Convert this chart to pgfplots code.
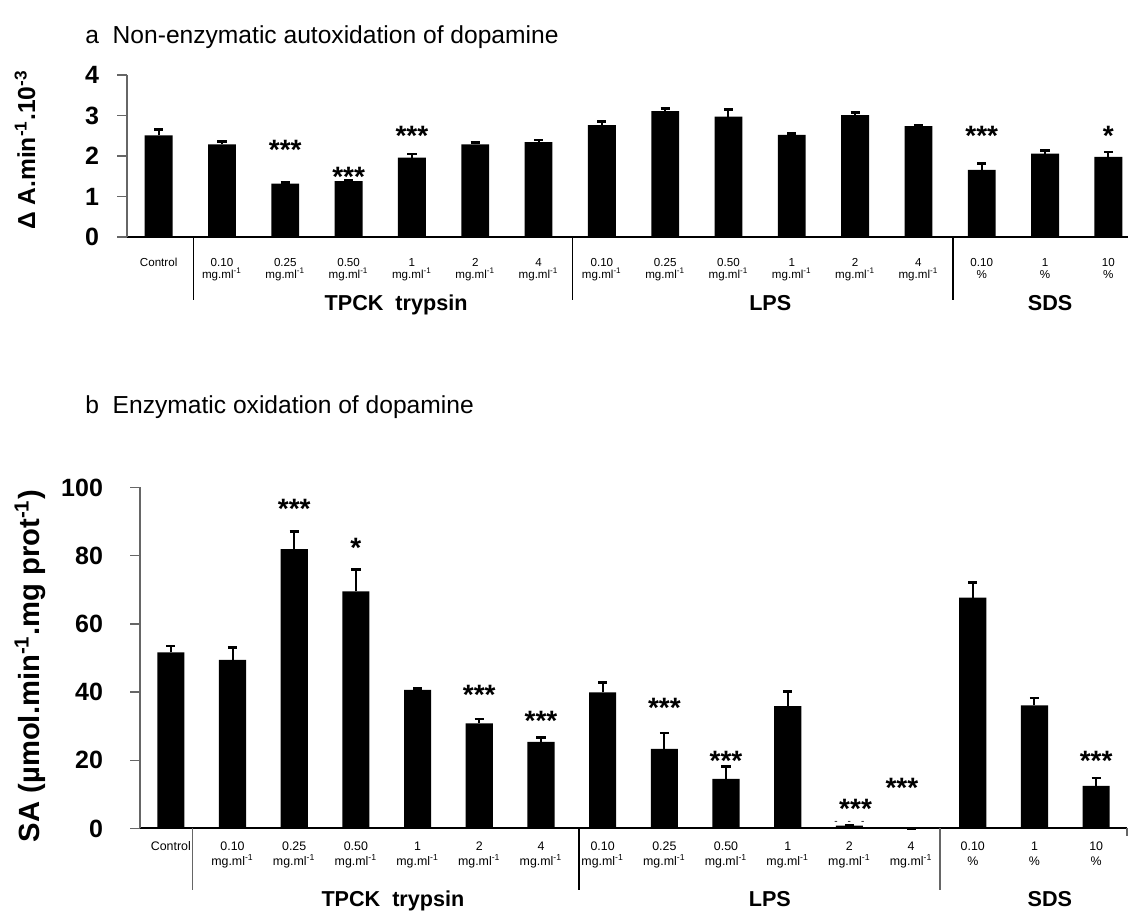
\documentclass[border=0pt]{standalone}
\usepackage{fontspec}
\setmainfont{Liberation Sans}
\usepackage{pgfplots}
\usepackage{pgfplotstable}
\pgfplotsset{compat=1.18}

% x = position, y = mean, err = upper error
\pgfplotstableread{
x y err
0 2.51 0.15
1 2.29 0.07
2 1.32 0.03
3 1.38 0.02
4 1.96 0.09
5 2.29 0.04
6 2.34 0.06
7 2.76 0.09
8 3.11 0.07
9 2.97 0.18
10 2.52 0.04
11 3.01 0.07
12 2.74 0.01
13 1.66 0.16
14 2.06 0.08
15 1.98 0.12
}\autox

\pgfplotstableread{
x y err
0 51.6 1.9
1 49.4 3.7
2 81.9 5.1
3 69.5 6.5
4 40.6 0.4
5 30.8 1.3
6 25.4 1.3
7 39.9 2.9
8 23.3 4.7
9 14.5 3.6
10 35.9 4.3
11 0.8 0
12 0 0
13 67.7 4.5
14 36.1 2.1
15 12.5 2.3
}\enzym

\newcommand{\mg}{mg.ml\textsuperscript{-1}}

\pgfplotsset{
  panel/.style={
    scale only axis, anchor=south west, clip=false,
    axis lines=left,
    x axis line style={-, black, line width=1pt},
    y axis line style={-, black!60, line width=0.7pt},
    ymin=0, xmin=-0.5,
    xtick={0,...,15}, xtick style={draw=none},
    ytick style={black!60, line width=0.7pt},
    tick align=outside, major tick length=5pt,
    /pgf/number format/assume math mode=true,
    xticklabel style={align=center, anchor=north},
    ybar, bar width=0.44,
  },
  bars/.style={
    fill=black, draw=none,
    error bars/.cd, y dir=plus, y explicit,
    error bar style={draw=black, line width=1pt},
    error mark options={draw=black, rotate=90, mark size=2.3pt, line width=1.3pt},
  },
}
\tikzset{
  stars/.style={anchor=base, inner sep=0pt, font=\bfseries\fontsize{14}{15}\selectfont},
  group/.style={anchor=base, font=\bfseries\fontsize{10.8}{12}\selectfont},
}

\begin{document}
\begin{tikzpicture}

\node[anchor=base west, inner sep=0pt, font=\fontsize{12.3}{14}\selectfont] at (42.5pt,-21.5pt) {a\ \ Non-enzymatic autoxidation of dopamine};
\node[anchor=base west, inner sep=0pt, font=\fontsize{12.3}{14}\selectfont] at (42.5pt,-206.5pt) {b\ \ Enzymatic oxidation of dopamine};

\node[rotate=90, font=\bfseries\fontsize{12.3}{14}\selectfont] at (12.5pt,-75pt) {Δ A.min\textsuperscript{-1}.10\textsuperscript{-3}};
\node[rotate=90, font=\bfseries\fontsize{14.6}{16}\selectfont] at (15pt,-333pt) {SA (µmol.min\textsuperscript{-1}.mg prot\textsuperscript{-1})};

% panel a
\begin{axis}[panel,
  at={(63.5pt,-118.5pt)},
  width=500.5pt, height=81pt,
  xmax=15.31, ymax=4, ytick={0,1,2,3,4},
  yticklabel style={font=\bfseries\fontsize{12.5}{14}\selectfont, xshift=-5.5pt},
  xticklabel style={font=\fontsize{5.8}{6}\selectfont, yshift=-2pt},
  xticklabels={Control, {0.10\\\mg}, {0.25\\\mg}, {0.50\\\mg}, {1\\\mg}, {2\\\mg}, {4\\\mg},
    {0.10\\\mg}, {0.25\\\mg}, {0.50\\\mg}, {1\\\mg}, {2\\\mg}, {4\\\mg},
    {0.10\\\%}, {1\\\%}, {10\\\%}},
]
\addplot[bars] table[x=x, y=y, y error=err]{\autox};
\node[stars] at (axis cs:2,1.92) {***};
\node[stars] at (axis cs:3,1.25) {***};
\node[stars] at (axis cs:4,2.25) {***};
\node[stars] at (axis cs:13,2.25) {***};
\node[stars] at (axis cs:15,2.25) {*};
\draw[line width=0.5pt] (axis cs:0.55,0) -- ++(0pt,-31.5pt);
\draw[line width=0.5pt] (axis cs:6.53,0) -- ++(0pt,-31.5pt);
\draw[line width=1pt] (axis cs:12.55,0) -- ++(0pt,-31.5pt);
\node[group] at (axis cs:3.75,0) [yshift=-36.5pt] {TPCK\ \ trypsin};
\node[group] at (axis cs:9.66,0) [yshift=-36.5pt] {LPS};
\node[group] at (axis cs:14.08,0) [yshift=-36.5pt] {SDS};
\end{axis}

% panel b
\begin{axis}[panel,
  at={(70pt,-414.2pt)},
  width=493.5pt, height=170.5pt,
  xmax=15.5, ymax=100, ytick={0,20,...,100},
  yticklabel style={font=\bfseries\fontsize{12.5}{14}\selectfont, xshift=-10pt},
  xticklabel style={font=\fontsize{6.2}{7.6}\selectfont, yshift=2pt},
  xticklabels={Control, {0.10\\\mg}, {0.25\\\mg}, {0.50\\\mg}, {1\\\mg}, {2\\\mg}, {4\\\mg},
    {0.10\\\mg}, {0.25\\\mg}, {0.50\\\mg}, {1\\\mg}, {2\\\mg}, {4\\\mg},
    {0.10\\\%}, {1\\\%}, {10\\\%}},
]
\addplot[bars] table[x=x, y=y, y error=err]{\enzym};
\node[stars] at (axis cs:2,90.8) {***};
\node[stars] at (axis cs:3,79.4) {*};
\node[stars] at (axis cs:5,36.4) {***};
\node[stars] at (axis cs:6,28.7) {***};
\node[stars] at (axis cs:8,32.6) {***};
\node[stars] at (axis cs:9,17.0) {***};
\node[stars] at (axis cs:11.1,3.0) {***};
\node[stars] at (axis cs:11.85,9.2) {***};
\node[stars] at (axis cs:15,17.0) {***};
\node[inner sep=0pt, font=\fontsize{5}{6}\selectfont] at (axis cs:11,1.6) {-\hspace{5pt}-\hspace{5pt}-};
\draw[line width=0.6pt, black!60] (axis cs:0.35,0) -- ++(0pt,-31pt);
\draw[line width=1.2pt] (axis cs:6.62,0) -- ++(0pt,-31pt);
\draw[line width=1.2pt, black!60] (axis cs:12.47,0) -- ++(0pt,-31pt);
\draw[line width=0.7pt, black!60] (axis cs:15.5,0) -- ++(0pt,-4pt);
\node[group] at (axis cs:3.6,0) [yshift=-39pt] {TPCK\ \ trypsin};
\node[group] at (axis cs:9.71,0) [yshift=-39pt] {LPS};
\node[group] at (axis cs:14.25,0) [yshift=-39pt] {SDS};
\end{axis}

\pgfresetboundingbox
\useasboundingbox (0,0) rectangle (564pt,-456pt);
\end{tikzpicture}
\end{document}
